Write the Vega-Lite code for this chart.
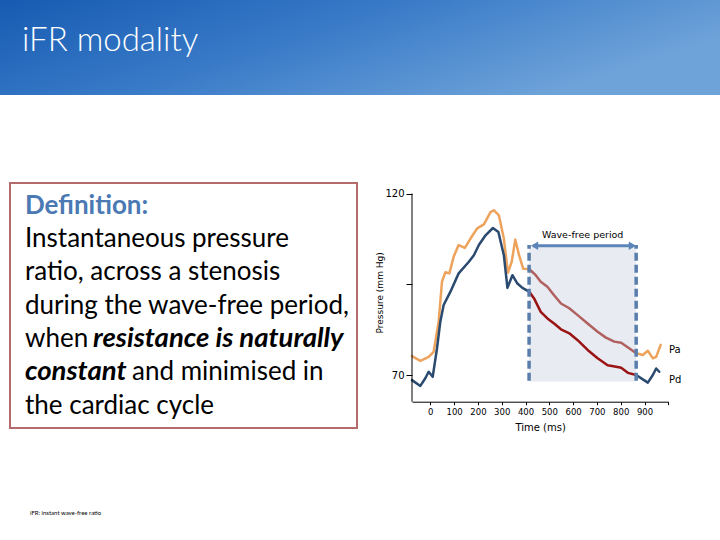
{
  "$schema": "https://vega.github.io/schema/vega-lite/v6.json",
  "padding": 0,
  "background": "white",
  "config": {
    "view": {"stroke": null},
    "font": "DejaVu Sans",
    "axis": {"grid": false, "labelOverlap": false, "labelFlush": false, "labelColor": "#000000", "titleColor": "#000000", "tickColor": "#000000", "domainColor": "#000000", "titleFontWeight": "normal"},
    "axisX": {"tickSize": 3, "labelFontSize": 8.5, "labelPadding": 3, "titleFontSize": 10, "titlePadding": 6},
    "axisY": {"tickSize": 6, "labelFontSize": 10, "labelPadding": 2, "titleFontSize": 9, "titlePadding": 0, "domain": false}
  },
  "title": {"text": "iFR: instant wave-free ratio", "orient": "bottom", "anchor": "start", "frame": "bounds", "fontSize": 6, "font": "Lato", "fontWeight": "normal", "color": "#000000", "offset": 78, "dx": 30},
  "datasets": {
    "curves": [
      {"t": -77, "p": 75.2, "s": "Pa"}, {"t": -42, "p": 73.9, "s": "Pa"}, {"t": -7, "p": 75.0, "s": "Pa"}, {"t": 14, "p": 76.4, "s": "Pa"},
      {"t": 35, "p": 84.7, "s": "Pa"}, {"t": 49, "p": 95.7, "s": "Pa"}, {"t": 63, "p": 98.3, "s": "Pa"}, {"t": 80, "p": 98.0, "s": "Pa"},
      {"t": 98, "p": 102.6, "s": "Pa"}, {"t": 119, "p": 105.8, "s": "Pa"}, {"t": 145, "p": 105.0, "s": "Pa"}, {"t": 169, "p": 107.6, "s": "Pa"},
      {"t": 197, "p": 110.4, "s": "Pa"}, {"t": 225, "p": 111.5, "s": "Pa"}, {"t": 253, "p": 114.9, "s": "Pa"}, {"t": 267, "p": 115.4, "s": "Pa"},
      {"t": 288, "p": 114.0, "s": "Pa"}, {"t": 309, "p": 107.6, "s": "Pa"}, {"t": 326, "p": 98.2, "s": "Pa"}, {"t": 342, "p": 101.2, "s": "Pa"},
      {"t": 357, "p": 107.3, "s": "Pa"}, {"t": 373, "p": 103.0, "s": "Pa"}, {"t": 390, "p": 99.3, "s": "Pa"}, {"t": 415, "p": 99.2, "s": "Pa"},
      {"t": 415, "p": 99.2, "s": "Pa wave-free"}, {"t": 443, "p": 97.5, "s": "Pa wave-free"}, {"t": 464, "p": 95.7, "s": "Pa wave-free"},
      {"t": 492, "p": 94.3, "s": "Pa wave-free"}, {"t": 520, "p": 92.0, "s": "Pa wave-free"}, {"t": 549, "p": 89.7, "s": "Pa wave-free"},
      {"t": 584, "p": 88.4, "s": "Pa wave-free"}, {"t": 619, "p": 86.5, "s": "Pa wave-free"}, {"t": 661, "p": 84.2, "s": "Pa wave-free"},
      {"t": 703, "p": 81.9, "s": "Pa wave-free"}, {"t": 738, "p": 80.3, "s": "Pa wave-free"}, {"t": 773, "p": 79.2, "s": "Pa wave-free"},
      {"t": 802, "p": 78.9, "s": "Pa wave-free"}, {"t": 837, "p": 77.3, "s": "Pa wave-free"}, {"t": 865, "p": 76.0, "s": "Pa wave-free"},
      {"t": 865, "p": 76.0, "s": "Pa after"}, {"t": 893, "p": 75.5, "s": "Pa after"}, {"t": 914, "p": 76.7, "s": "Pa after"},
      {"t": 935, "p": 74.6, "s": "Pa after"}, {"t": 949, "p": 75.0, "s": "Pa after"}, {"t": 968, "p": 78.3, "s": "Pa after"},
      {"t": -77, "p": 68.6, "s": "Pd"}, {"t": -42, "p": 67.0, "s": "Pd"}, {"t": -21, "p": 69.1, "s": "Pd"}, {"t": -7, "p": 70.9, "s": "Pd"},
      {"t": 10, "p": 69.5, "s": "Pd"}, {"t": 28, "p": 77.3, "s": "Pd"}, {"t": 42, "p": 84.7, "s": "Pd"}, {"t": 56, "p": 89.3, "s": "Pd"},
      {"t": 84, "p": 92.9, "s": "Pd"}, {"t": 119, "p": 98.0, "s": "Pd"}, {"t": 162, "p": 101.2, "s": "Pd"}, {"t": 183, "p": 103.0, "s": "Pd"},
      {"t": 204, "p": 105.8, "s": "Pd"}, {"t": 232, "p": 108.5, "s": "Pd"}, {"t": 263, "p": 110.5, "s": "Pd"}, {"t": 286, "p": 109.4, "s": "Pd"},
      {"t": 309, "p": 103.0, "s": "Pd"}, {"t": 324, "p": 94.0, "s": "Pd"}, {"t": 345, "p": 97.5, "s": "Pd"}, {"t": 366, "p": 95.2, "s": "Pd"},
      {"t": 387, "p": 94.0, "s": "Pd"}, {"t": 415, "p": 93.0, "s": "Pd"},
      {"t": 415, "p": 93.0, "s": "Pd wave-free"}, {"t": 436, "p": 91.1, "s": "Pd wave-free"}, {"t": 464, "p": 87.4, "s": "Pd wave-free"},
      {"t": 492, "p": 85.6, "s": "Pd wave-free"}, {"t": 520, "p": 84.2, "s": "Pd wave-free"}, {"t": 549, "p": 82.6, "s": "Pd wave-free"},
      {"t": 584, "p": 81.5, "s": "Pd wave-free"}, {"t": 619, "p": 79.6, "s": "Pd wave-free"}, {"t": 661, "p": 76.9, "s": "Pd wave-free"},
      {"t": 703, "p": 74.6, "s": "Pd wave-free"}, {"t": 745, "p": 72.7, "s": "Pd wave-free"}, {"t": 781, "p": 72.3, "s": "Pd wave-free"},
      {"t": 802, "p": 72.0, "s": "Pd wave-free"}, {"t": 830, "p": 70.6, "s": "Pd wave-free"}, {"t": 865, "p": 70.0, "s": "Pd wave-free"},
      {"t": 865, "p": 70.0, "s": "Pd after"}, {"t": 893, "p": 68.8, "s": "Pd after"}, {"t": 914, "p": 67.9, "s": "Pd after"},
      {"t": 935, "p": 70.0, "s": "Pd after"}, {"t": 949, "p": 71.8, "s": "Pd after"}, {"t": 962, "p": 70.9, "s": "Pd after"}
    ]
  },
  "spacing": 88,
  "bounds": "flush",
  "vconcat": [
    {
      "width": 720,
      "height": 95,
      "view": {"stroke": null, "fill": {"gradient": "linear", "x1": 0, "y1": 0, "x2": 1, "y2": 0.4, "stops": [{"offset": 0, "color": "#165bb2"}, {"offset": 0.5, "color": "#3a7bc8"}, {"offset": 1, "color": "#6ea3d9"}]}},
      "data": {"values": [{"heading": "iFR modality"}]},
      "mark": {"type": "text", "align": "left", "baseline": "alphabetic", "font": "Lato", "fontWeight": 300, "fontSize": 33, "color": "#ffffff"},
      "encoding": {
        "x": {"datum": 0, "type": "quantitative", "scale": {"domain": [0, 1], "range": [22, 720]}, "axis": null},
        "y": {"datum": 0, "type": "quantitative", "scale": {"domain": [0, 1], "range": [51, 95]}, "axis": null},
        "text": {"field": "heading"}
      }
    },
    {
      "hconcat": [
        {"width": 10, "height": 10, "data": {"values": []}, "mark": "point"},
        {
          "width": 347,
          "height": 245,
          "view": {"stroke": "#b36b6b", "strokeWidth": 2, "fill": "white"},
          "encoding": {
            "x": {"datum": 0, "type": "quantitative", "scale": {"domain": [0, 1], "range": [15, 347]}, "axis": null},
            "y": {"field": "line", "type": "quantitative", "scale": {"domain": [1, 7], "range": [30.5, 230.5]}, "axis": null},
            "text": {"field": "text"}
          },
          "layer": [
            {"data": {"values": [{"line": 1, "text": "Definition:"}]},
             "mark": {"type": "text", "align": "left", "baseline": "alphabetic", "font": "Lato", "fontSize": 26, "fontWeight": "bold", "color": "#4a79b3"}},
            {"data": {"values": [{"line": 2, "text": "Instantaneous pressure"}, {"line": 3, "text": "ratio, across a stenosis"}, {"line": 4, "text": "during the wave-free period,"}, {"line": 5, "text": "when"}, {"line": 7, "text": "the cardiac cycle"}]},
             "mark": {"type": "text", "align": "left", "baseline": "alphabetic", "font": "Lato", "fontSize": 26, "color": "#000000"}},
            {"data": {"values": [{"line": 6, "text": "constant"}]},
             "mark": {"type": "text", "align": "left", "baseline": "alphabetic", "font": "Lato", "fontSize": 27.5, "fontWeight": "bold", "fontStyle": "italic", "color": "#000000"}},
            {"data": {"values": [{"line": 5, "text": "resistance is naturally"}]},
             "mark": {"type": "text", "align": "left", "baseline": "alphabetic", "font": "Lato", "fontSize": 27.5, "fontWeight": "bold", "fontStyle": "italic", "color": "#000000", "dx": 68}},
            {"data": {"values": [{"line": 6, "text": "and minimised in"}]},
             "mark": {"type": "text", "align": "left", "baseline": "alphabetic", "font": "Lato", "fontSize": 26, "color": "#000000", "dx": 107}}
          ]
        },
        {"width": 54.7, "height": 10, "data": {"values": []}, "mark": "point"},
        {
          "width": 256.3,
          "height": 218.7,
          "layer": [
            {
              "data": {"values": [{"t": 415, "t2": 865, "p": 68.2, "p2": 105.5}]},
              "mark": {"type": "rect", "color": "#e8ecf2"},
              "encoding": {
                "x": {"field": "t", "type": "quantitative", "scale": {"domain": [-77, 1000], "nice": false, "zero": false},
                  "axis": {"title": "Time (ms)", "values": [0, 100, 200, 300, 400, 500, 600, 700, 800, 900, 1000], "tickCount": 11, "labelExpr": "datum.value >= 1000 ? '' : datum.label", "labelOverlap": false}},
                "x2": {"field": "t2"},
                "y": {"field": "p", "type": "quantitative", "scale": {"domain": [62.65, 122.9], "nice": false, "zero": false},
                  "axis": {"title": "Pressure (mm Hg)", "values": [70, 95, 120], "labelExpr": "datum.value == 95 ? '' : datum.label", "domain": false}},
                "y2": {"field": "p2"}
              }
            },
            {
              "data": {"name": "curves"},
              "mark": {"type": "line", "strokeWidth": 2.5, "strokeJoin": "round", "strokeCap": "round"},
              "encoding": {
                "x": {"field": "t", "type": "quantitative",
                  "axis": {"title": "Time (ms)", "values": [0, 100, 200, 300, 400, 500, 600, 700, 800, 900, 1000], "tickCount": 11, "labelExpr": "datum.value >= 1000 ? '' : datum.label", "labelOverlap": false}},
                "y": {"field": "p", "type": "quantitative",
                  "axis": {"title": "Pressure (mm Hg)", "values": [70, 95, 120], "labelExpr": "datum.value == 95 ? '' : datum.label", "domain": false}},
                "detail": {"field": "s"},
                "color": {"field": "s", "type": "nominal", "scale": {"domain": ["Pa", "Pa after", "Pd", "Pd after", "Pa wave-free", "Pd wave-free"], "range": ["#eda35c", "#eda35c", "#2b4a6f", "#2b4a6f", "#b0605e", "#9a1414"]}, "legend": null}
              }
            },
            {
              "data": {"values": [{"t": 415, "p": 68.4, "p2": 105.8}, {"t": 865, "p": 68.4, "p2": 105.8}]},
              "mark": {"type": "rule", "color": "#5a7eab", "strokeWidth": 3.5, "strokeDash": [8, 4]},
              "encoding": {
                "x": {"field": "t", "type": "quantitative"},
                "y": {"field": "p", "type": "quantitative"},
                "y2": {"field": "p2"}
              }
            },
            {
              "data": {"values": [{"t": 432, "t2": 850, "p": 105.6}]},
              "mark": {"type": "rule", "color": "#5b84b8", "strokeWidth": 3},
              "encoding": {
                "x": {"field": "t", "type": "quantitative"},
                "x2": {"field": "t2"},
                "y": {"field": "p", "type": "quantitative"}
              }
            },
            {
              "data": {"values": [{"t": 438, "p": 105.6, "dir": "left"}, {"t": 849, "p": 105.6, "dir": "right"}]},
              "mark": {"type": "point", "filled": true, "opacity": 1, "size": 70, "color": "#5b84b8"},
              "encoding": {
                "x": {"field": "t", "type": "quantitative"},
                "y": {"field": "p", "type": "quantitative"},
                "shape": {"field": "dir", "type": "nominal", "scale": {"domain": ["left", "right"], "range": ["triangle-left", "triangle-right"]}, "legend": null}
              }
            },
            {
              "data": {"values": [{"t": 640, "p": 108.5, "label": "Wave-free period"}]},
              "mark": {"type": "text", "fontSize": 9.5, "font": "DejaVu Sans", "color": "#000000", "baseline": "middle"},
              "encoding": {
                "x": {"field": "t", "type": "quantitative"},
                "y": {"field": "p", "type": "quantitative"},
                "text": {"field": "label"}
              }
            },
            {
              "data": {"values": [{"t": 1003, "p": 76.9, "label": "Pa"}, {"t": 1003, "p": 68.6, "label": "Pd"}]},
              "mark": {"type": "text", "fontSize": 10, "font": "DejaVu Sans", "color": "#000000", "align": "left", "baseline": "middle"},
              "encoding": {
                "x": {"field": "t", "type": "quantitative"},
                "y": {"field": "p", "type": "quantitative"},
                "text": {"field": "label"}
              }
            },
            {
              "data": {"values": [{"t": -77, "p": 62.65, "p2": 120}]},
              "mark": {"type": "rule", "color": "#000000", "strokeWidth": 1},
              "encoding": {
                "x": {"field": "t", "type": "quantitative"},
                "y": {"field": "p", "type": "quantitative"},
                "y2": {"field": "p2"}
              }
            }
          ]
        }
      ],
      "spacing": 0,
      "bounds": "flush"
    }
  ]
}
